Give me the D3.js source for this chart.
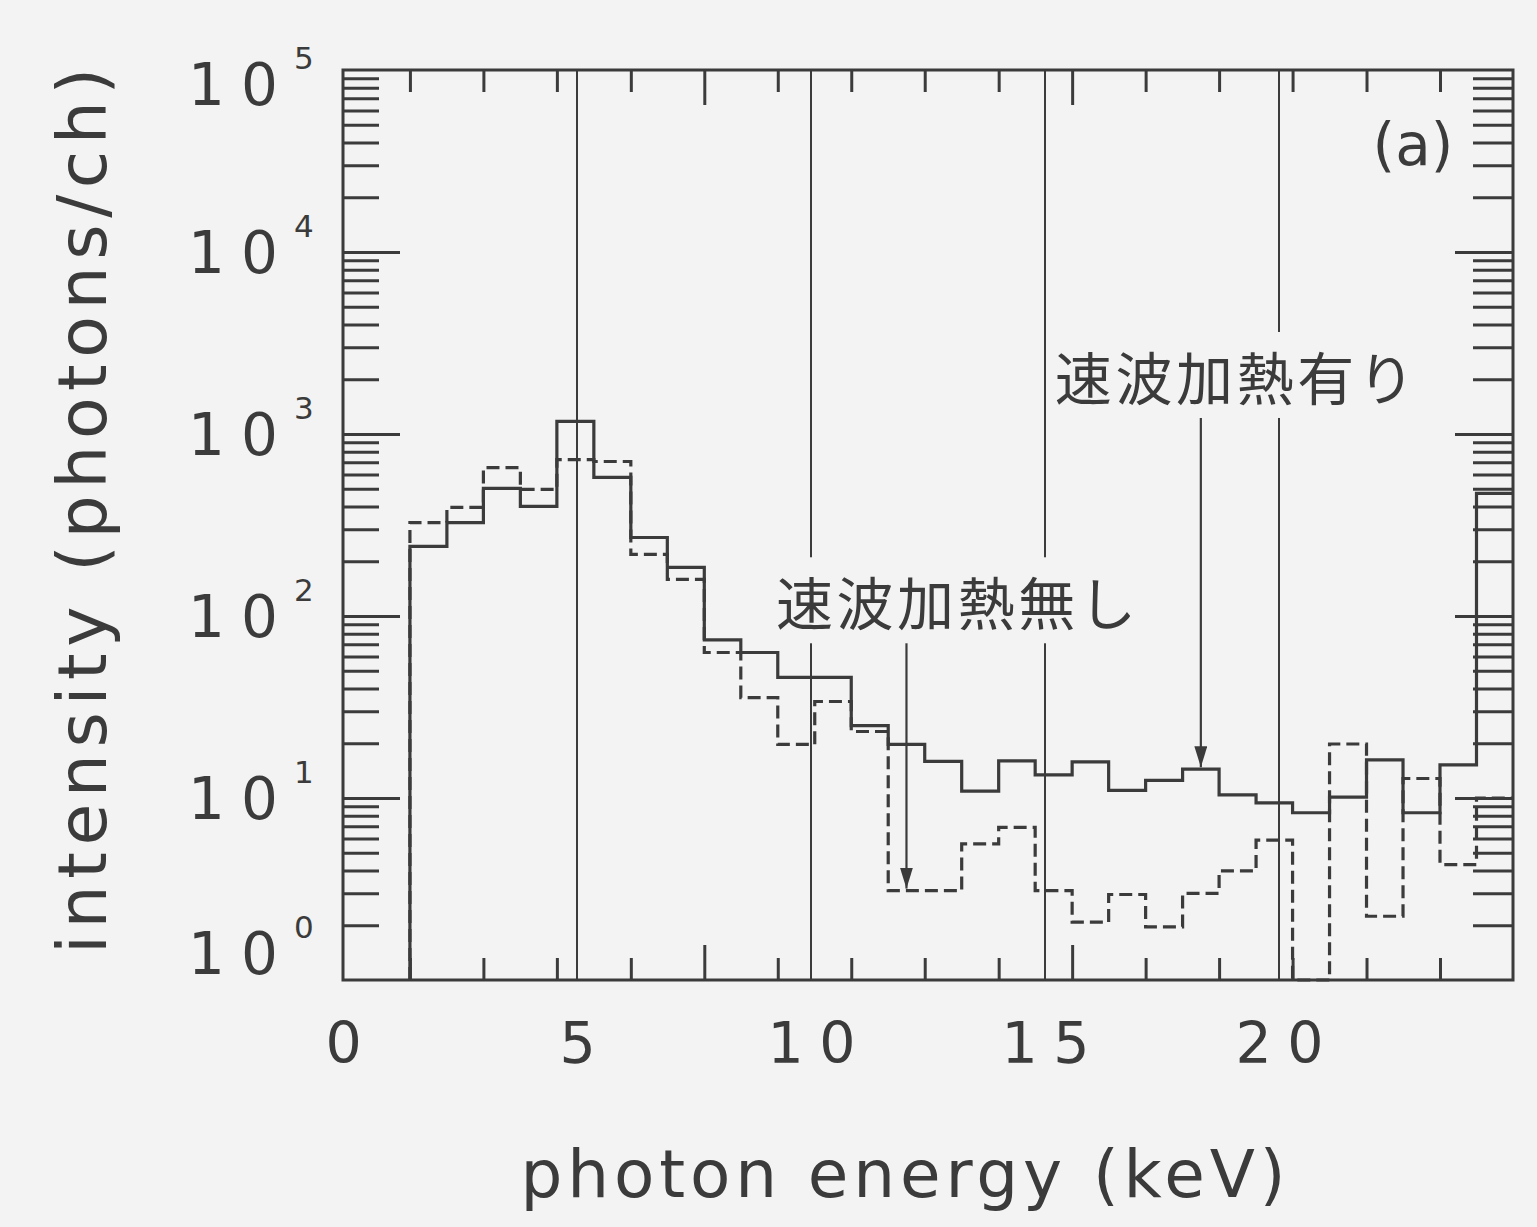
<!DOCTYPE html>
<html>
<head>
<meta charset="utf-8">
<script src="https://cdn.jsdelivr.net/npm/d3@7"></script>
<style>
  html, body { margin: 0; padding: 0; background: #f3f3f3; }
  svg { display: block; }
</style>
</head>
<body>
<svg id="chart" width="1537" height="1227"></svg>
<script>
// Pulse-height analyser channel boundaries (keV): 30 channels
const channelEdges = [1.43, 2.22, 3.00, 3.79, 4.57, 5.36, 6.15, 6.93, 7.72, 8.50,
                      9.29, 10.08, 10.86, 11.65, 12.43, 13.22, 14.01, 14.79, 15.58, 16.36,
                      17.15, 17.94, 18.72, 19.51, 20.29, 21.08, 21.87, 22.65, 23.44, 24.22, 25.00];

// Counts per channel with fast-wave heating (solid)
const withHeating = [241, 326, 502, 400, 1172, 577, 270, 185, 74, 63,
                     46, 46, 25, 19.7, 15.9, 10.9, 16.0, 13.4, 15.8, 11.0,
                     12.5, 14.4, 10.4, 9.4, 8.3, 10.1, 16.2, 8.3, 15.2, 472];

// Counts per channel without fast-wave heating (dashed)
const withoutHeating = [326, 395, 654, 496, 724, 706, 218, 159, 63, 35.6,
                        19.7, 33.9, 23.2, 3.1, 3.1, 5.6, 6.9, 3.1, 2.08, 2.95,
                        1.96, 2.99, 3.98, 5.87, 0, 19.8, 2.24, 12.8, 4.31, 10];

const energyTicks = [0, 5, 10, 15, 20];
const energyRefLines = [5, 10, 15, 20];
const decadeTicks = [1, 10, 100, 1000, 10000, 100000];
const longTickChannels = [8, 18];

const xTitle = "photon energy (keV)";
const yTitle = "intensity (photons/ch)";
const panelTag = "(a)";

// Annotation text placed at (keV, counts), arrow pointing at a channel of a series
const annotations = [
  { text: "速波加熱無し", series: "without", channel: 13, energy: 9.25, counts: 122 },
  { text: "速波加熱有り", series: "with", channel: 21, energy: 15.21, counts: 2110 }
];

// ---------------------------------------------------------------------
const ink = "#3b3b3b";
const bg = "#f3f3f3";
const latin = "'DejaVu Sans', sans-serif";
const cjk = "'Noto Sans CJK JP', sans-serif";

const plot = { left: 343, right: 1513, top: 70, bottom: 980 };

const svg = d3.select("#chart");
svg.append("rect").attr("width", 1537).attr("height", 1227).attr("fill", bg);

const x = d3.scaleLinear().domain([0, 25]).range([plot.left, plot.right]);
const y = d3.scaleLog().domain([1, 1e5]).range([plot.bottom, plot.top]);
const yc = v => y(Math.max(v, y.domain()[0]));

// reference lines at 5 keV steps
svg.append("g").selectAll("line").data(energyRefLines).join("line")
  .attr("x1", d => x(d)).attr("x2", d => x(d))
  .attr("y1", plot.top).attr("y2", plot.bottom)
  .attr("stroke", ink).attr("stroke-width", 2);

// histogram outlines
function stepPoints(values) {
  const pts = [[channelEdges[0], y.domain()[0]]];
  channelEdges.forEach((e, i) => {
    pts.push([e, values[Math.min(i, values.length - 1)]]);
  });
  return pts;
}
const stepLine = d3.line()
  .x(d => x(d[0])).y(d => yc(d[1]))
  .curve(d3.curveStepAfter);

svg.append("path").datum(stepPoints(withoutHeating))
  .attr("d", stepLine).attr("fill", "none")
  .attr("stroke", ink).attr("stroke-width", 3.2)
  .attr("stroke-dasharray", "13,6");

svg.append("path").datum(stepPoints(withHeating))
  .attr("d", stepLine).attr("fill", "none")
  .attr("stroke", ink).attr("stroke-width", 3.2);

// axes: ticks drawn inward on all four sides
const yAll = y.ticks();
const isDecade = d => Math.abs(Math.log10(d) - Math.round(Math.log10(d))) < 1e-9;
const yMajor = yAll.filter(d => isDecade(d) && d > 1 && d < 1e5);
const yMinor = yAll.filter(d => !isDecade(d));

const tidy = g => {
  g.select(".domain").remove();
  g.selectAll(".tick line").attr("stroke", ink).attr("stroke-width", 3);
};

svg.append("g").attr("transform", `translate(${plot.left},0)`)
  .call(d3.axisRight(y).tickValues(yMinor).tickSize(36).tickFormat("")).call(tidy);
svg.append("g").attr("transform", `translate(${plot.left},0)`)
  .call(d3.axisRight(y).tickValues(yMajor).tickSize(57).tickFormat("")).call(tidy);
svg.append("g").attr("transform", `translate(${plot.right},0)`)
  .call(d3.axisLeft(y).tickValues(yMinor).tickSize(40).tickFormat("")).call(tidy);
svg.append("g").attr("transform", `translate(${plot.right},0)`)
  .call(d3.axisLeft(y).tickValues(yMajor).tickSize(58).tickFormat("")).call(tidy);

const chanTicks = channelEdges.filter((e, i) => i % 2 === 0 && i < channelEdges.length - 1);
const chanShort = chanTicks.filter(e => !longTickChannels.includes(channelEdges.indexOf(e)));
const chanLong = longTickChannels.map(i => channelEdges[i]);

[[chanShort, 22], [chanLong, 35]].forEach(([vals, len]) => {
  svg.append("g").attr("transform", `translate(0,${plot.top})`)
    .call(d3.axisBottom(x).tickValues(vals).tickSize(len).tickFormat("")).call(tidy);
  svg.append("g").attr("transform", `translate(0,${plot.bottom})`)
    .call(d3.axisTop(x).tickValues(vals).tickSize(len).tickFormat("")).call(tidy);
});

// energy labels
const xLab = svg.append("g").attr("transform", `translate(0,${plot.bottom})`)
  .call(d3.axisBottom(x).tickValues(energyTicks).tickSize(0).tickPadding(43).tickFormat(d3.format("d")));
xLab.select(".domain").remove();
xLab.selectAll("text")
  .attr("font-family", latin).attr("font-size", 57).attr("fill", ink)
  .each(function(d) {
    if (String(d).length > 1) d3.select(this).attr("textLength", 88).attr("lengthAdjust", "spacing");
  });

// decade labels 10^n
const yLab = svg.append("g");
decadeTicks.forEach(d => {
  const cy = Math.min(Math.max(y(d), plot.top + 14), plot.bottom - 27);
  yLab.append("text")
    .attr("x", 278).attr("y", cy + 21)
    .attr("text-anchor", "end")
    .attr("font-family", latin).attr("font-size", 58).attr("fill", ink)
    .attr("textLength", 90).attr("lengthAdjust", "spacing")
    .text("10");
  yLab.append("text")
    .attr("x", 294).attr("y", cy - 15)
    .attr("font-family", latin).attr("font-size", 31).attr("fill", ink)
    .text(Math.round(Math.log10(d)));
});

// frame
svg.append("rect")
  .attr("x", plot.left).attr("y", plot.top)
  .attr("width", plot.right - plot.left).attr("height", plot.bottom - plot.top)
  .attr("fill", "none").attr("stroke", ink).attr("stroke-width", 3);

// axis titles
svg.append("text")
  .attr("x", 903).attr("y", 1197)
  .attr("text-anchor", "middle")
  .attr("font-family", latin).attr("font-size", 66).attr("fill", ink)
  .attr("textLength", 765).attr("lengthAdjust", "spacing")
  .text(xTitle);

svg.append("text")
  .attr("transform", "translate(106,511) rotate(-90)")
  .attr("text-anchor", "middle")
  .attr("font-family", latin).attr("font-size", 68).attr("fill", ink)
  .attr("textLength", 886).attr("lengthAdjust", "spacing")
  .text(yTitle);

svg.append("text")
  .attr("x", 1413).attr("y", 165)
  .attr("text-anchor", "middle")
  .attr("font-family", latin).attr("font-size", 58).attr("fill", ink)
  .text(panelTag);

// annotations with arrows
svg.append("defs").append("marker")
  .attr("id", "arrowhead")
  .attr("markerUnits", "userSpaceOnUse")
  .attr("markerWidth", 22).attr("markerHeight", 14)
  .attr("refX", 21).attr("refY", 6.5)
  .attr("orient", "auto")
  .append("path").attr("d", "M0,0 L21,6.5 L0,13 Z").attr("fill", ink);

const seriesByName = { with: withHeating, without: withoutHeating };

annotations.forEach(a => {
  const g = svg.append("g");
  const box = g.append("rect").attr("fill", bg);
  const t = g.append("text")
    .attr("x", x(a.energy)).attr("y", y(a.counts))
    .attr("dominant-baseline", "central")
    .attr("font-family", cjk).attr("font-size", 57).attr("fill", ink)
    .attr("textLength", 360).attr("lengthAdjust", "spacing")
    .text(a.text);
  const bb = t.node().getBBox();
  const padY = 2;
  box.attr("x", bb.x - 6).attr("y", bb.y - padY)
     .attr("width", bb.width + 12).attr("height", bb.height + 2 * padY);

  const lo = channelEdges[a.channel], hi = channelEdges[a.channel + 1];
  const ax = x((lo + hi) / 2);
  const target = seriesByName[a.series][a.channel];
  svg.append("line")
    .attr("x1", ax).attr("x2", ax)
    .attr("y1", bb.y + bb.height + padY).attr("y2", yc(target) - 2)
    .attr("stroke", ink).attr("stroke-width", 2.2)
    .attr("marker-end", "url(#arrowhead)");
});
</script>
</body>
</html>
